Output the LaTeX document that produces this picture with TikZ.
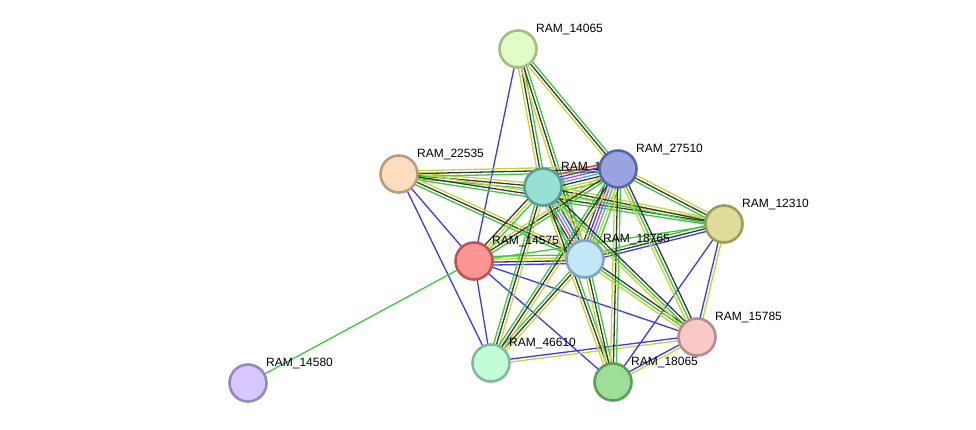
\documentclass[tikz,border=0pt]{standalone}
\usepackage{fontspec}
\setmainfont{Liberation Sans}
\usetikzlibrary{calc}
\pgfdeclarelayer{background}
\pgfsetlayers{background,main}
\definecolor{nbgreen}{HTML}{3DC83D}
\definecolor{tmyellow}{HTML}{C4D636}
\definecolor{cxblack}{HTML}{383838}
\definecolor{coblue}{HTML}{3A3AF0}
\definecolor{exmagenta}{HTML}{D63BD6}
\definecolor{dbcyan}{HTML}{3CB4D6}
\definecolor{fured}{HTML}{E8402F}
% node fills and rims
\definecolor{f14065}{HTML}{E2FCC6}\definecolor{r14065}{HTML}{A3BD83}
\definecolor{f22535}{HTML}{FDDCBF}\definecolor{r22535}{HTML}{B89C7E}
\definecolor{f1teal}{HTML}{99E0D4}\definecolor{r1teal}{HTML}{5A9E92}
\definecolor{f27510}{HTML}{98A3DF}\definecolor{r27510}{HTML}{5A65A8}
\definecolor{f12310}{HTML}{DEDC98}\definecolor{r12310}{HTML}{9D9B58}
\definecolor{f14575}{HTML}{FC9494}\definecolor{r14575}{HTML}{BA5555}
\definecolor{f18765}{HTML}{C1E7F9}\definecolor{r18765}{HTML}{7FA6BD}
\definecolor{f15785}{HTML}{F9C8C9}\definecolor{r15785}{HTML}{B78B8C}
\definecolor{f46610}{HTML}{C2FCD9}\definecolor{r46610}{HTML}{80BB98}
\definecolor{f18065}{HTML}{9EDE98}\definecolor{r18065}{HTML}{5E9D58}
\definecolor{f14580}{HTML}{D6C8FD}\definecolor{r14580}{HTML}{9688BD}
\tikzset{
  protein/.style={circle,minimum size=37pt,inner sep=0pt,line width=2.6pt},
  lbl/.style={anchor=base west,inner sep=0pt,
    font=\fontsize{12}{14}\selectfont,text=black},
  evidence/.style={line width=1.3pt}
}
% parallel evidence lines between two proteins
\newcommand{\link}[3]{%
  \def\nlines{0}\foreach \c in {#3}{\xdef\nlines{\the\numexpr\nlines+1\relax}}%
  \foreach \c [count=\i] in {#3}{%
    \pgfmathsetlengthmacro{\off}{(\i-(\nlines+1)/2)*2.9pt}%
    \draw[evidence,draw=\c] ($(#1.center)!\off!90:(#2.center)$) -- ($(#2.center)!\off!-90:(#1.center)$);}}

\begin{document}
\begin{tikzpicture}[x=1pt,y=-1pt]
\path[use as bounding box] (0,0) rectangle (976,429);
% proteins, each with its name at upper right
\node[protein,fill=f14065,draw=r14065] (p14065) at (518,49) {};
\node[lbl] (t14065) at ($(p14065.center)+(18,-17)$) {RAM\_14065};
\node[protein,fill=f22535,draw=r22535] (p22535) at (399,174) {};
\node[lbl] (t22535) at ($(p22535.center)+(18,-17)$) {RAM\_22535};
\node[protein,fill=f1teal,draw=r1teal] (p1teal) at (543,187) {};
\node[lbl] (t1teal) at ($(p1teal.center)+(18,-17)$) {RAM\_1};
\node[protein,fill=f27510,draw=r27510] (p27510) at (618,169) {};
\node[lbl] (t27510) at ($(p27510.center)+(18,-17)$) {RAM\_27510};
\node[protein,fill=f12310,draw=r12310] (p12310) at (724,224) {};
\node[lbl] (t12310) at ($(p12310.center)+(18,-17)$) {RAM\_12310};
\node[protein,fill=f14575,draw=r14575] (p14575) at (474,261) {};
\node[lbl] (t14575) at ($(p14575.center)+(18,-17)$) {RAM\_14575};
\node[protein,fill=f18765,draw=r18765] (p18765) at (585,259) {};
\node[lbl] (t18765) at ($(p18765.center)+(18,-17)$) {RAM\_18765};
\node[protein,fill=f15785,draw=r15785] (p15785) at (697,337) {};
\node[lbl] (t15785) at ($(p15785.center)+(18,-17)$) {RAM\_15785};
\node[protein,fill=f46610,draw=r46610] (p46610) at (491,363) {};
\node[lbl] (t46610) at ($(p46610.center)+(18,-17)$) {RAM\_46610};
\node[protein,fill=f18065,draw=r18065] (p18065) at (613,382) {};
\node[lbl] (t18065) at ($(p18065.center)+(18,-17)$) {RAM\_18065};
\node[protein,fill=f14580,draw=r14580] (p14580) at (248,383) {};
\node[lbl] (t14580) at ($(p14580.center)+(18,-17)$) {RAM\_14580};
% evidence
\begin{pgfonlayer}{background}
\link{p14065}{p14575}{coblue}
\link{p14065}{p1teal}{tmyellow,cxblack,nbgreen}
\link{p14065}{p18765}{tmyellow,cxblack,nbgreen}
\link{p14065}{p27510}{tmyellow,cxblack,nbgreen}
\link{p22535}{p1teal}{nbgreen,cxblack,tmyellow}
\link{p22535}{p27510}{nbgreen,cxblack,tmyellow}
\link{p22535}{p12310}{nbgreen,cxblack,tmyellow}
\link{p22535}{p18765}{nbgreen,cxblack,tmyellow}
\link{p22535}{p14575}{coblue}
\link{p22535}{p46610}{coblue}
\link{p1teal}{p27510}{nbgreen,tmyellow,cxblack,dbcyan,exmagenta,coblue,fured}
\link{p1teal}{p18765}{nbgreen,cxblack,exmagenta,dbcyan,coblue,tmyellow}
\link{p27510}{p18765}{cxblack,coblue,exmagenta,dbcyan,tmyellow,nbgreen}
\link{p1teal}{p12310}{nbgreen,cxblack,tmyellow}
\link{p27510}{p12310}{nbgreen,cxblack,tmyellow}
\link{p18765}{p12310}{coblue,cxblack,nbgreen}
\link{p14575}{p12310}{nbgreen}
\link{p14575}{p18765}{coblue,cxblack,tmyellow,nbgreen}
\link{p14575}{p1teal}{nbgreen,tmyellow,cxblack}
\link{p14575}{p27510}{nbgreen,cxblack,tmyellow}
\link{p14575}{p15785}{coblue}
\link{p14575}{p18065}{coblue}
\link{p14575}{p46610}{coblue}
\link{p14575}{p14580}{nbgreen}
\link{p46610}{p1teal}{tmyellow,cxblack,nbgreen}
\link{p46610}{p18765}{tmyellow,cxblack,nbgreen}
\link{p46610}{p27510}{tmyellow,cxblack,nbgreen}
\link{p46610}{p15785}{tmyellow,coblue}
\link{p18065}{p1teal}{nbgreen,cxblack,tmyellow}
\link{p18065}{p18765}{nbgreen,cxblack,tmyellow}
\link{p18065}{p27510}{nbgreen,cxblack,tmyellow}
\link{p18065}{p15785}{tmyellow,coblue}
\link{p18065}{p12310}{coblue}
\link{p15785}{p12310}{tmyellow,coblue}
\link{p15785}{p18765}{cxblack,nbgreen,tmyellow}
\link{p15785}{p27510}{cxblack,nbgreen,tmyellow}
\link{p15785}{p1teal}{cxblack,nbgreen,tmyellow}
\end{pgfonlayer}
\end{tikzpicture}
\end{document}
